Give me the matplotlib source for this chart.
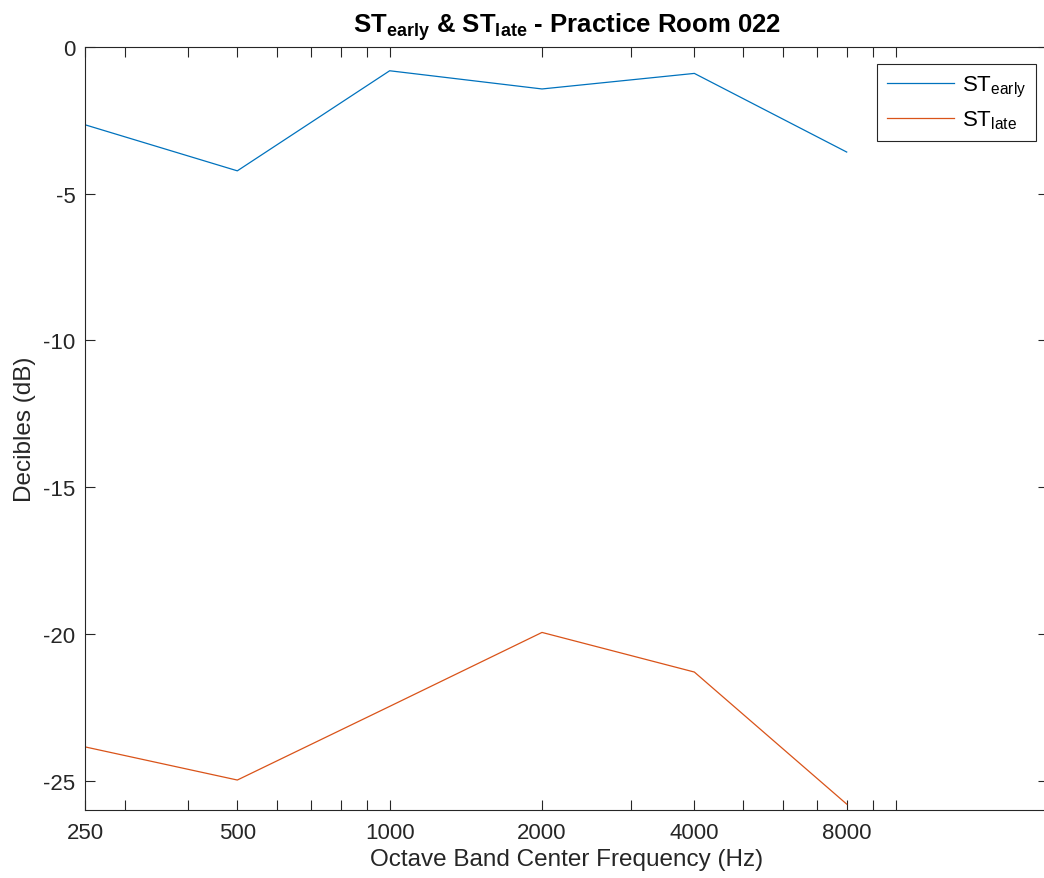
import matplotlib
matplotlib.use("Agg")
import matplotlib.pyplot as plt
from matplotlib.ticker import FixedLocator, FixedFormatter, NullFormatter

# octave band centres and clarity values (dB)
freqs = [250, 500, 1000, 2000, 4000, 8000]
st_early = [-2.65, -4.22, -0.81, -1.43, -0.90, -3.58]
st_late = [-23.85, -24.98, -22.47, -19.95, -21.30, -25.80]

xtick_labels = ['250', '500', '1000', '2000', '4000', '8000']
minor_x = [300, 400, 600, 700, 800, 900, 3000, 5000, 6000, 7000, 9000, 10000]
yticks = [-25, -20, -15, -10, -5, 0]

plt.rcParams['font.family'] = ['Liberation Sans', 'DejaVu Sans']
plt.rcParams['mathtext.fontset'] = 'custom'
plt.rcParams['mathtext.rm'] = 'Liberation Sans'
plt.rcParams['mathtext.it'] = 'Liberation Sans'
plt.rcParams['mathtext.bf'] = 'Liberation Sans:bold'

axcol = (0.15, 0.15, 0.15)
blue = (0.0, 0.447, 0.741)
orange = (0.85, 0.325, 0.098)

fig = plt.figure(figsize=(10.44, 8.79), dpi=100)
ax = fig.add_axes([0.0814, 0.0774, 0.9225, 0.8680])

ax.plot(freqs, st_early, color=blue, lw=0.9, label=r'ST$_{\mathrm{early}}$')
ax.plot(freqs, st_late, color=orange, lw=0.9, label=r'ST$_{\mathrm{late}}$')

ax.set_xscale('log')
ax.set_xlim(250, 20000)
ax.set_ylim(-26, 0)

ax.xaxis.set_major_locator(FixedLocator(freqs))
ax.xaxis.set_major_formatter(FixedFormatter(xtick_labels))
ax.xaxis.set_minor_locator(FixedLocator(minor_x))
ax.xaxis.set_minor_formatter(NullFormatter())
ax.set_yticks(yticks)
ax.set_yticklabels([str(t) for t in yticks])

for s in ax.spines.values():
    s.set_color(axcol)
    s.set_linewidth(0.8)
ax.tick_params(which='both', direction='in', top=True, right=True,
               colors=axcol, labelsize=16, width=0.8)
ax.tick_params(which='major', length=7)
ax.tick_params(which='minor', length=7)
ax.tick_params(axis='y', which='major', pad=7)
ax.tick_params(axis='x', which='major', pad=9)

ax.set_xlabel('Octave Band Center Frequency (Hz)', fontsize=17.5, color=axcol, labelpad=3)
ax.set_ylabel('Decibles (dB)', fontsize=17.5, color=axcol, labelpad=5)
ax.set_title(r'ST$_{\mathbf{early}}$ & ST$_{\mathbf{late}}$ - Practice Room 022',
             fontsize=18.5, fontweight='bold', color='black', pad=11)

leg = ax.legend(loc='upper right', bbox_to_anchor=(0.9875, 0.978), borderaxespad=0,
                fontsize=16, handlelength=3.0, handletextpad=0.35, fancybox=False,
                framealpha=1, edgecolor=axcol, borderpad=0.45, labelspacing=0.45)
leg.get_frame().set_linewidth(0.8)

fig.savefig('out.png', dpi=100)
